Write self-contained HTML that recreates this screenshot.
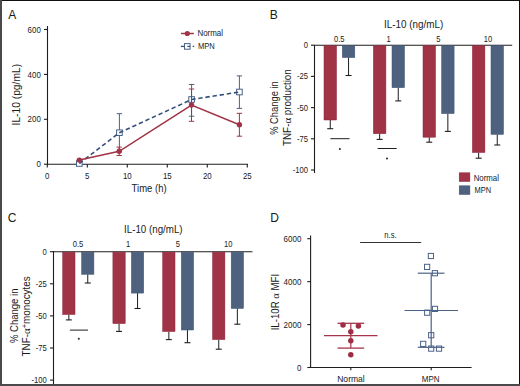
<!DOCTYPE html>
<html><head><meta charset="utf-8"><style>
html,body{margin:0;padding:0;background:#fff;width:520px;height:386px;overflow:hidden;}
svg{display:block;}
text{font-family:"Liberation Sans", sans-serif;}
</style></head><body>
<svg width="520" height="386" viewBox="0 0 520 386">
<rect width="520" height="386" fill="#fff"/>
<text x="12.2" y="18.6" font-size="12" text-anchor="middle" fill="#1a1a1a" >A</text>
<line x1="47.5" y1="26" x2="47.5" y2="164.8" stroke="#1e1e1e" stroke-width="1.1" />
<line x1="44" y1="164.2" x2="47.5" y2="164.2" stroke="#1e1e1e" stroke-width="1.1" />
<text x="40.8" y="167.3" font-size="8.5" text-anchor="end" fill="#1a1a1a" textLength="4.4" lengthAdjust="spacingAndGlyphs" >0</text>
<line x1="44" y1="119.3" x2="47.5" y2="119.3" stroke="#1e1e1e" stroke-width="1.1" />
<text x="40.8" y="122.4" font-size="8.5" text-anchor="end" fill="#1a1a1a" textLength="13.19" lengthAdjust="spacingAndGlyphs" >200</text>
<line x1="44" y1="74.4" x2="47.5" y2="74.4" stroke="#1e1e1e" stroke-width="1.1" />
<text x="40.8" y="77.5" font-size="8.5" text-anchor="end" fill="#1a1a1a" textLength="13.19" lengthAdjust="spacingAndGlyphs" >400</text>
<line x1="44" y1="29.5" x2="47.5" y2="29.5" stroke="#1e1e1e" stroke-width="1.1" />
<text x="40.8" y="32.6" font-size="8.5" text-anchor="end" fill="#1a1a1a" textLength="13.19" lengthAdjust="spacingAndGlyphs" >600</text>
<line x1="47" y1="164.2" x2="248" y2="164.2" stroke="#1e1e1e" stroke-width="1.1" />
<line x1="47.3" y1="164.2" x2="47.3" y2="167.6" stroke="#1e1e1e" stroke-width="1.1" />
<text x="47.3" y="179.2" font-size="8.5" text-anchor="middle" fill="#1a1a1a" textLength="4.4" lengthAdjust="spacingAndGlyphs" >0</text>
<line x1="87.3" y1="164.2" x2="87.3" y2="167.6" stroke="#1e1e1e" stroke-width="1.1" />
<text x="87.3" y="179.2" font-size="8.5" text-anchor="middle" fill="#1a1a1a" textLength="4.4" lengthAdjust="spacingAndGlyphs" >5</text>
<line x1="127.3" y1="164.2" x2="127.3" y2="167.6" stroke="#1e1e1e" stroke-width="1.1" />
<text x="127.3" y="179.2" font-size="8.5" text-anchor="middle" fill="#1a1a1a" textLength="8.79" lengthAdjust="spacingAndGlyphs" >10</text>
<line x1="167.3" y1="164.2" x2="167.3" y2="167.6" stroke="#1e1e1e" stroke-width="1.1" />
<text x="167.3" y="179.2" font-size="8.5" text-anchor="middle" fill="#1a1a1a" textLength="8.79" lengthAdjust="spacingAndGlyphs" >15</text>
<line x1="207.3" y1="164.2" x2="207.3" y2="167.6" stroke="#1e1e1e" stroke-width="1.1" />
<text x="207.3" y="179.2" font-size="8.5" text-anchor="middle" fill="#1a1a1a" textLength="8.79" lengthAdjust="spacingAndGlyphs" >20</text>
<line x1="247.3" y1="164.2" x2="247.3" y2="167.6" stroke="#1e1e1e" stroke-width="1.1" />
<text x="247.3" y="179.2" font-size="8.5" text-anchor="middle" fill="#1a1a1a" textLength="8.79" lengthAdjust="spacingAndGlyphs" >25</text>
<text x="149.1" y="192.4" font-size="10.0" text-anchor="middle" fill="#1a1a1a" textLength="35.0" lengthAdjust="spacingAndGlyphs" >Time (h)</text>
<text x="20.0" y="94.7" font-size="10.3" text-anchor="middle" fill="#1a1a1a" textLength="61.5" lengthAdjust="spacingAndGlyphs" transform="rotate(-90 20.0 94.7)">IL-10 (pg/mL)</text>
<line x1="119.4" y1="113.7" x2="119.4" y2="151.7" stroke="#4e6280" stroke-width="1.0" />
<line x1="116.7" y1="113.7" x2="122.10000000000001" y2="113.7" stroke="#4e6280" stroke-width="1.0" />
<line x1="116.7" y1="151.7" x2="122.10000000000001" y2="151.7" stroke="#4e6280" stroke-width="1.0" />
<line x1="191.6" y1="84.5" x2="191.6" y2="116.2" stroke="#4e6280" stroke-width="1.0" />
<line x1="188.9" y1="84.5" x2="194.29999999999998" y2="84.5" stroke="#4e6280" stroke-width="1.0" />
<line x1="188.9" y1="116.2" x2="194.29999999999998" y2="116.2" stroke="#4e6280" stroke-width="1.0" />
<line x1="239.4" y1="75.9" x2="239.4" y2="108.4" stroke="#4e6280" stroke-width="1.0" />
<line x1="236.70000000000002" y1="75.9" x2="242.1" y2="75.9" stroke="#4e6280" stroke-width="1.0" />
<line x1="236.70000000000002" y1="108.4" x2="242.1" y2="108.4" stroke="#4e6280" stroke-width="1.0" />
<rect x="76.5" y="160.7" width="5.6" height="5.6" fill="#fff" stroke="#4a6288" stroke-width="1"/>
<rect x="116.6" y="129.9" width="5.6" height="5.6" fill="#fff" stroke="#4a6288" stroke-width="1"/>
<rect x="188.8" y="96.7" width="5.6" height="5.6" fill="#fff" stroke="#4a6288" stroke-width="1"/>
<rect x="236.6" y="89.2" width="5.6" height="5.6" fill="#fff" stroke="#4a6288" stroke-width="1"/>
<polyline points="79.3,163.5 119.4,132.7 191.6,99.5 239.4,92" fill="none" stroke="#34507a" stroke-width="1.6" stroke-dasharray="4.4 2.8"/>
<line x1="119.2" y1="147.1" x2="119.2" y2="155.5" stroke="#a03446" stroke-width="1.0" />
<line x1="116.5" y1="147.1" x2="121.9" y2="147.1" stroke="#a03446" stroke-width="1.0" />
<line x1="116.5" y1="155.5" x2="121.9" y2="155.5" stroke="#a03446" stroke-width="1.0" />
<line x1="191.5" y1="89" x2="191.5" y2="121.3" stroke="#a03446" stroke-width="1.0" />
<line x1="188.8" y1="89" x2="194.2" y2="89" stroke="#a03446" stroke-width="1.0" />
<line x1="188.8" y1="121.3" x2="194.2" y2="121.3" stroke="#a03446" stroke-width="1.0" />
<line x1="239.4" y1="113.3" x2="239.4" y2="136.2" stroke="#a03446" stroke-width="1.0" />
<line x1="236.70000000000002" y1="113.3" x2="242.1" y2="113.3" stroke="#a03446" stroke-width="1.0" />
<line x1="236.70000000000002" y1="136.2" x2="242.1" y2="136.2" stroke="#a03446" stroke-width="1.0" />
<polyline points="79.3,160.1 119.2,151.3 191.5,105 239.4,124.7" fill="none" stroke="#a03446" stroke-width="1.5"/>
<circle cx="79.3" cy="160.1" r="2.7" fill="#a03446"/>
<circle cx="119.2" cy="151.3" r="2.7" fill="#a03446"/>
<circle cx="191.5" cy="105" r="2.7" fill="#a03446"/>
<circle cx="239.4" cy="124.7" r="2.7" fill="#a03446"/>
<line x1="180.9" y1="33.5" x2="193.9" y2="33.5" stroke="#a03446" stroke-width="1.5" />
<circle cx="187.3" cy="33.5" r="2.6" fill="#a03446"/>
<text x="197.4" y="36.3" font-size="8.2" text-anchor="start" fill="#1a1a1a" textLength="25.6" lengthAdjust="spacingAndGlyphs" >Normal</text>
<line x1="180.9" y1="46.4" x2="184.5" y2="46.4" stroke="#34507a" stroke-width="1.3" />
<rect x="184.5" y="43.6" width="5.6" height="5.6" fill="none" stroke="#4a6288" stroke-width="1"/>
<line x1="187.3" y1="46.4" x2="190.1" y2="46.4" stroke="#34507a" stroke-width="1.2" />
<line x1="192.6" y1="46.4" x2="194.2" y2="46.4" stroke="#34507a" stroke-width="1.3" />
<text x="197.9" y="49.2" font-size="8.2" text-anchor="start" fill="#1a1a1a" textLength="16.8" lengthAdjust="spacingAndGlyphs" >MPN</text>
<text x="273.8" y="18.6" font-size="12" text-anchor="middle" fill="#1a1a1a" >B</text>
<text x="413.6" y="27.8" font-size="10.0" text-anchor="middle" fill="#1a1a1a" textLength="59.2" lengthAdjust="spacingAndGlyphs" >IL-10 (ng/mL)</text>
<line x1="314.5" y1="45" x2="314.5" y2="173" stroke="#1e1e1e" stroke-width="1.1" />
<line x1="311" y1="45.2" x2="314.5" y2="45.2" stroke="#1e1e1e" stroke-width="1.1" />
<text x="308.0" y="48.2" font-size="8.4" text-anchor="end" fill="#1a1a1a" textLength="4.25" lengthAdjust="spacingAndGlyphs" >0</text>
<line x1="311" y1="76.4" x2="314.5" y2="76.4" stroke="#1e1e1e" stroke-width="1.1" />
<text x="308.0" y="79.4" font-size="8.4" text-anchor="end" fill="#1a1a1a" textLength="11.05" lengthAdjust="spacingAndGlyphs" >-25</text>
<line x1="311" y1="107.6" x2="314.5" y2="107.6" stroke="#1e1e1e" stroke-width="1.1" />
<text x="308.0" y="110.6" font-size="8.4" text-anchor="end" fill="#1a1a1a" textLength="11.05" lengthAdjust="spacingAndGlyphs" >-50</text>
<line x1="311" y1="138.8" x2="314.5" y2="138.8" stroke="#1e1e1e" stroke-width="1.1" />
<text x="308.0" y="141.8" font-size="8.4" text-anchor="end" fill="#1a1a1a" textLength="11.05" lengthAdjust="spacingAndGlyphs" >-75</text>
<line x1="311" y1="170.0" x2="314.5" y2="170.0" stroke="#1e1e1e" stroke-width="1.1" />
<text x="308.0" y="173.0" font-size="8.4" text-anchor="end" fill="#1a1a1a" textLength="15.3" lengthAdjust="spacingAndGlyphs" >-100</text>
<line x1="314" y1="45.2" x2="512.2" y2="45.2" stroke="#1e1e1e" stroke-width="1.1" />
<line x1="330.25" y1="120" x2="330.25" y2="128.7" stroke="#1e1e1e" stroke-width="1.0" />
<line x1="327.25" y1="128.7" x2="333.25" y2="128.7" stroke="#1e1e1e" stroke-width="1.1" />
<rect x="324" y="45.7" width="12.5" height="74.3" fill="#a03446" stroke="#8c2238" stroke-width="0.5"/>
<line x1="379.65" y1="133.7" x2="379.65" y2="139.4" stroke="#1e1e1e" stroke-width="1.0" />
<line x1="376.65" y1="139.4" x2="382.65" y2="139.4" stroke="#1e1e1e" stroke-width="1.1" />
<rect x="373.4" y="45.7" width="12.5" height="88.0" fill="#a03446" stroke="#8c2238" stroke-width="0.5"/>
<line x1="429.25" y1="137.2" x2="429.25" y2="142.2" stroke="#1e1e1e" stroke-width="1.0" />
<line x1="426.25" y1="142.2" x2="432.25" y2="142.2" stroke="#1e1e1e" stroke-width="1.1" />
<rect x="423" y="45.7" width="12.5" height="91.5" fill="#a03446" stroke="#8c2238" stroke-width="0.5"/>
<line x1="478.65" y1="152.5" x2="478.65" y2="158.2" stroke="#1e1e1e" stroke-width="1.0" />
<line x1="475.65" y1="158.2" x2="481.65" y2="158.2" stroke="#1e1e1e" stroke-width="1.1" />
<rect x="472.4" y="45.7" width="12.5" height="106.8" fill="#a03446" stroke="#8c2238" stroke-width="0.5"/>
<line x1="348.55" y1="57.6" x2="348.55" y2="75.5" stroke="#1e1e1e" stroke-width="1.0" />
<line x1="345.55" y1="75.5" x2="351.55" y2="75.5" stroke="#1e1e1e" stroke-width="1.1" />
<rect x="342.3" y="45.7" width="12.5" height="11.9" fill="#4e6280" stroke="#3d5373" stroke-width="0.5"/>
<line x1="398.25" y1="87.7" x2="398.25" y2="100.9" stroke="#1e1e1e" stroke-width="1.0" />
<line x1="395.25" y1="100.9" x2="401.25" y2="100.9" stroke="#1e1e1e" stroke-width="1.1" />
<rect x="392" y="45.7" width="12.5" height="42.0" fill="#4e6280" stroke="#3d5373" stroke-width="0.5"/>
<line x1="447.85" y1="113.6" x2="447.85" y2="131.4" stroke="#1e1e1e" stroke-width="1.0" />
<line x1="444.85" y1="131.4" x2="450.85" y2="131.4" stroke="#1e1e1e" stroke-width="1.1" />
<rect x="441.6" y="45.7" width="12.5" height="67.9" fill="#4e6280" stroke="#3d5373" stroke-width="0.5"/>
<line x1="497.25" y1="134.4" x2="497.25" y2="145" stroke="#1e1e1e" stroke-width="1.0" />
<line x1="494.25" y1="145" x2="500.25" y2="145" stroke="#1e1e1e" stroke-width="1.1" />
<rect x="491" y="45.7" width="12.5" height="88.7" fill="#4e6280" stroke="#3d5373" stroke-width="0.5"/>
<text x="339.3" y="41.7" font-size="8.6" text-anchor="middle" fill="#1a1a1a" textLength="10.52" lengthAdjust="spacingAndGlyphs" >0.5</text>
<text x="388.7" y="41.7" font-size="8.6" text-anchor="middle" fill="#1a1a1a" textLength="4.21" lengthAdjust="spacingAndGlyphs" >1</text>
<text x="438.3" y="41.7" font-size="8.6" text-anchor="middle" fill="#1a1a1a" textLength="4.21" lengthAdjust="spacingAndGlyphs" >5</text>
<text x="488" y="41.7" font-size="8.6" text-anchor="middle" fill="#1a1a1a" textLength="8.42" lengthAdjust="spacingAndGlyphs" >10</text>
<line x1="330.4" y1="138.7" x2="349.5" y2="138.7" stroke="#1e1e1e" stroke-width="1.0" />
<circle cx="339.9" cy="149.1" r="1.0" fill="#222"/>
<line x1="377.6" y1="148.5" x2="396.7" y2="148.5" stroke="#1e1e1e" stroke-width="1.0" />
<circle cx="387" cy="158.5" r="1.0" fill="#222"/>
<text x="278" y="108" font-size="10" text-anchor="middle" fill="#1a1a1a" textLength="53.7" lengthAdjust="spacingAndGlyphs" transform="rotate(-90 278 108)">% Change in</text>
<text x="291" y="107.6" font-size="10" text-anchor="middle" fill="#1a1a1a" textLength="76.8" lengthAdjust="spacingAndGlyphs" transform="rotate(-90 291 107.6)">TNF-<tspan font-family="Liberation Serif" font-size="11">α</tspan> production</text>
<rect x="459.2" y="172.8" width="10.7" height="8.7" fill="#a03446" stroke="#8c2238" stroke-width="0.5"/>
<rect x="459.2" y="185.8" width="10.7" height="8.7" fill="#4e6280" stroke="#3d5373" stroke-width="0.5"/>
<text x="473.7" y="180.6" font-size="8.4" text-anchor="start" fill="#1a1a1a" textLength="25.3" lengthAdjust="spacingAndGlyphs" >Normal</text>
<text x="474.6" y="193.2" font-size="8.4" text-anchor="start" fill="#1a1a1a" textLength="16.6" lengthAdjust="spacingAndGlyphs" >MPN</text>
<text x="12" y="221.6" font-size="12" text-anchor="middle" fill="#1a1a1a" >C</text>
<text x="153.3" y="233.2" font-size="10.0" text-anchor="middle" fill="#1a1a1a" textLength="58.6" lengthAdjust="spacingAndGlyphs" >IL-10 (ng/mL)</text>
<line x1="53.5" y1="251" x2="53.5" y2="386" stroke="#1e1e1e" stroke-width="1.1" />
<line x1="50" y1="251.7" x2="53.5" y2="251.7" stroke="#1e1e1e" stroke-width="1.1" />
<text x="46.8" y="254.7" font-size="8.4" text-anchor="end" fill="#1a1a1a" textLength="4.25" lengthAdjust="spacingAndGlyphs" >0</text>
<line x1="50" y1="283.8" x2="53.5" y2="283.8" stroke="#1e1e1e" stroke-width="1.1" />
<text x="46.8" y="286.8" font-size="8.4" text-anchor="end" fill="#1a1a1a" textLength="11.05" lengthAdjust="spacingAndGlyphs" >-25</text>
<line x1="50" y1="315.9" x2="53.5" y2="315.9" stroke="#1e1e1e" stroke-width="1.1" />
<text x="46.8" y="318.9" font-size="8.4" text-anchor="end" fill="#1a1a1a" textLength="11.05" lengthAdjust="spacingAndGlyphs" >-50</text>
<line x1="50" y1="348.0" x2="53.5" y2="348.0" stroke="#1e1e1e" stroke-width="1.1" />
<text x="46.8" y="351.0" font-size="8.4" text-anchor="end" fill="#1a1a1a" textLength="11.05" lengthAdjust="spacingAndGlyphs" >-75</text>
<line x1="50" y1="380.1" x2="53.5" y2="380.1" stroke="#1e1e1e" stroke-width="1.1" />
<text x="46.8" y="383.1" font-size="8.4" text-anchor="end" fill="#1a1a1a" textLength="15.3" lengthAdjust="spacingAndGlyphs" >-100</text>
<line x1="53" y1="251.7" x2="252.5" y2="251.7" stroke="#1e1e1e" stroke-width="1.1" />
<line x1="68.85000000000001" y1="314.5" x2="68.85000000000001" y2="319.9" stroke="#1e1e1e" stroke-width="1.0" />
<line x1="65.85000000000001" y1="319.9" x2="71.85000000000001" y2="319.9" stroke="#1e1e1e" stroke-width="1.1" />
<rect x="62.7" y="252.2" width="12.3" height="62.3" fill="#a03446" stroke="#8c2238" stroke-width="0.5"/>
<line x1="119.05000000000001" y1="323.6" x2="119.05000000000001" y2="331.4" stroke="#1e1e1e" stroke-width="1.0" />
<line x1="116.05000000000001" y1="331.4" x2="122.05000000000001" y2="331.4" stroke="#1e1e1e" stroke-width="1.1" />
<rect x="112.9" y="252.2" width="12.3" height="71.4" fill="#a03446" stroke="#8c2238" stroke-width="0.5"/>
<line x1="168.85" y1="331.5" x2="168.85" y2="339.6" stroke="#1e1e1e" stroke-width="1.0" />
<line x1="165.85" y1="339.6" x2="171.85" y2="339.6" stroke="#1e1e1e" stroke-width="1.1" />
<rect x="162.7" y="252.2" width="12.3" height="79.3" fill="#a03446" stroke="#8c2238" stroke-width="0.5"/>
<line x1="218.75" y1="339.6" x2="218.75" y2="349.2" stroke="#1e1e1e" stroke-width="1.0" />
<line x1="215.75" y1="349.2" x2="221.75" y2="349.2" stroke="#1e1e1e" stroke-width="1.1" />
<rect x="212.6" y="252.2" width="12.3" height="87.4" fill="#a03446" stroke="#8c2238" stroke-width="0.5"/>
<line x1="87.75" y1="274.3" x2="87.75" y2="283" stroke="#1e1e1e" stroke-width="1.0" />
<line x1="84.75" y1="283" x2="90.75" y2="283" stroke="#1e1e1e" stroke-width="1.1" />
<rect x="81.6" y="252.2" width="12.3" height="22.1" fill="#4e6280" stroke="#3d5373" stroke-width="0.5"/>
<line x1="137.55" y1="293.1" x2="137.55" y2="308.5" stroke="#1e1e1e" stroke-width="1.0" />
<line x1="134.55" y1="308.5" x2="140.55" y2="308.5" stroke="#1e1e1e" stroke-width="1.1" />
<rect x="131.4" y="252.2" width="12.3" height="40.9" fill="#4e6280" stroke="#3d5373" stroke-width="0.5"/>
<line x1="187.45000000000002" y1="330" x2="187.45000000000002" y2="342.7" stroke="#1e1e1e" stroke-width="1.0" />
<line x1="184.45000000000002" y1="342.7" x2="190.45000000000002" y2="342.7" stroke="#1e1e1e" stroke-width="1.1" />
<rect x="181.3" y="252.2" width="12.3" height="77.8" fill="#4e6280" stroke="#3d5373" stroke-width="0.5"/>
<line x1="237.35" y1="308.5" x2="237.35" y2="324.2" stroke="#1e1e1e" stroke-width="1.0" />
<line x1="234.35" y1="324.2" x2="240.35" y2="324.2" stroke="#1e1e1e" stroke-width="1.1" />
<rect x="231.2" y="252.2" width="12.3" height="56.3" fill="#4e6280" stroke="#3d5373" stroke-width="0.5"/>
<text x="78" y="246.5" font-size="8.6" text-anchor="middle" fill="#1a1a1a" textLength="10.52" lengthAdjust="spacingAndGlyphs" >0.5</text>
<text x="128" y="246.5" font-size="8.6" text-anchor="middle" fill="#1a1a1a" textLength="4.21" lengthAdjust="spacingAndGlyphs" >1</text>
<text x="177.9" y="246.5" font-size="8.6" text-anchor="middle" fill="#1a1a1a" textLength="4.21" lengthAdjust="spacingAndGlyphs" >5</text>
<text x="228.2" y="246.5" font-size="8.6" text-anchor="middle" fill="#1a1a1a" textLength="8.42" lengthAdjust="spacingAndGlyphs" >10</text>
<line x1="69.9" y1="330.1" x2="88" y2="330.1" stroke="#1e1e1e" stroke-width="1.0" />
<circle cx="78.8" cy="338.7" r="1.0" fill="#222"/>
<text x="18.2" y="315.8" font-size="10" text-anchor="middle" fill="#1a1a1a" textLength="54.5" lengthAdjust="spacingAndGlyphs" transform="rotate(-90 18.2 315.8)">% Change in</text>
<text x="30.2" y="316.4" font-size="10" text-anchor="middle" fill="#1a1a1a" textLength="80" lengthAdjust="spacingAndGlyphs" transform="rotate(-90 30.2 316.4)">TNF-<tspan font-family="Liberation Serif" font-size="11">α</tspan><tspan dy="-3.2" font-size="7.5">+</tspan><tspan dy="3.2">monocytes</tspan></text>
<text x="274.5" y="221.8" font-size="12" text-anchor="middle" fill="#1a1a1a" >D</text>
<line x1="310.6" y1="235.6" x2="310.6" y2="368" stroke="#1e1e1e" stroke-width="1.1" />
<line x1="307.3" y1="367.5" x2="310.6" y2="367.5" stroke="#1e1e1e" stroke-width="1.1" />
<text x="301.4" y="370.6" font-size="8.6" text-anchor="end" fill="#1a1a1a" textLength="4.45" lengthAdjust="spacingAndGlyphs" >0</text>
<line x1="307.3" y1="324.57" x2="310.6" y2="324.57" stroke="#1e1e1e" stroke-width="1.1" />
<text x="301.4" y="327.67" font-size="8.6" text-anchor="end" fill="#1a1a1a" textLength="17.79" lengthAdjust="spacingAndGlyphs" >2000</text>
<line x1="307.3" y1="281.63" x2="310.6" y2="281.63" stroke="#1e1e1e" stroke-width="1.1" />
<text x="301.4" y="284.73" font-size="8.6" text-anchor="end" fill="#1a1a1a" textLength="17.79" lengthAdjust="spacingAndGlyphs" >4000</text>
<line x1="307.3" y1="238.7" x2="310.6" y2="238.7" stroke="#1e1e1e" stroke-width="1.1" />
<text x="301.4" y="241.8" font-size="8.6" text-anchor="end" fill="#1a1a1a" textLength="17.79" lengthAdjust="spacingAndGlyphs" >6000</text>
<line x1="310.2" y1="367.5" x2="471.6" y2="367.5" stroke="#1e1e1e" stroke-width="1.1" />
<line x1="350.8" y1="367.5" x2="350.8" y2="370.2" stroke="#1e1e1e" stroke-width="1.1" />
<line x1="431.2" y1="367.5" x2="431.2" y2="370.2" stroke="#1e1e1e" stroke-width="1.1" />
<text x="351" y="381.8" font-size="8.4" text-anchor="middle" fill="#1a1a1a" textLength="27.6" lengthAdjust="spacingAndGlyphs" >Normal</text>
<text x="430.7" y="381.6" font-size="8.4" text-anchor="middle" fill="#1a1a1a" textLength="17.8" lengthAdjust="spacingAndGlyphs" >MPN</text>
<line x1="360.1" y1="242.5" x2="421.2" y2="242.5" stroke="#333" stroke-width="1.1" />
<text x="390.5" y="237.7" font-size="8.2" text-anchor="middle" fill="#1a1a1a" textLength="12.4" lengthAdjust="spacingAndGlyphs" >n.s.</text>
<text x="278.6" y="302.1" font-size="10.4" text-anchor="middle" fill="#1a1a1a" textLength="56.5" lengthAdjust="spacingAndGlyphs" transform="rotate(-90 278.6 302.1)">IL-10R <tspan font-family="Liberation Serif" font-size="11.4">α</tspan> MFI</text>
<line x1="324" y1="335.6" x2="377.5" y2="335.6" stroke="#a8344a" stroke-width="1.3" />
<line x1="337.5" y1="323.3" x2="364.2" y2="323.3" stroke="#a8344a" stroke-width="1.3" />
<line x1="337.5" y1="348.1" x2="364.2" y2="348.1" stroke="#a8344a" stroke-width="1.3" />
<line x1="350.8" y1="323.3" x2="350.8" y2="348.1" stroke="#a8344a" stroke-width="1.2" />
<circle cx="343.0" cy="325.0" r="2.75" fill="#9e2e46"/>
<circle cx="358.4" cy="326.1" r="2.75" fill="#9e2e46"/>
<circle cx="350.8" cy="331.8" r="2.75" fill="#9e2e46"/>
<circle cx="350.8" cy="340.8" r="2.75" fill="#9e2e46"/>
<circle cx="350.8" cy="354.7" r="2.75" fill="#9e2e46"/>
<line x1="404.5" y1="310.5" x2="458" y2="310.5" stroke="#4a6288" stroke-width="1.2" />
<line x1="417.8" y1="273.2" x2="444.5" y2="273.2" stroke="#4a6288" stroke-width="1.2" />
<line x1="417.8" y1="347.3" x2="444.5" y2="347.3" stroke="#4a6288" stroke-width="1.2" />
<line x1="431.2" y1="273.2" x2="431.2" y2="347.3" stroke="#4a6288" stroke-width="1.2" />
<rect x="428.3" y="253.4" width="5.2" height="5.2" fill="none" stroke="#4a6288" stroke-width="1"/>
<rect x="424.5" y="264.3" width="5.2" height="5.2" fill="none" stroke="#4a6288" stroke-width="1"/>
<rect x="432.3" y="270.6" width="5.2" height="5.2" fill="none" stroke="#4a6288" stroke-width="1"/>
<rect x="432.4" y="306.3" width="5.2" height="5.2" fill="none" stroke="#4a6288" stroke-width="1"/>
<rect x="424.6" y="310.1" width="5.2" height="5.2" fill="none" stroke="#4a6288" stroke-width="1"/>
<rect x="428.6" y="332.6" width="5.2" height="5.2" fill="none" stroke="#4a6288" stroke-width="1"/>
<rect x="420.6" y="341.3" width="5.2" height="5.2" fill="none" stroke="#4a6288" stroke-width="1"/>
<rect x="428.6" y="346.0" width="5.2" height="5.2" fill="none" stroke="#4a6288" stroke-width="1"/>
<rect x="436.4" y="346.0" width="5.2" height="5.2" fill="none" stroke="#4a6288" stroke-width="1"/>
<rect x="0" y="0" width="520" height="1" fill="#111"/>
<rect x="519" y="0" width="1" height="386" fill="#111"/>
<rect x="0" y="0" width="2" height="386" fill="#4a4a4a"/>
<rect x="0" y="384" width="520" height="2" fill="#4a4a4a"/>
</svg>
</body></html>
